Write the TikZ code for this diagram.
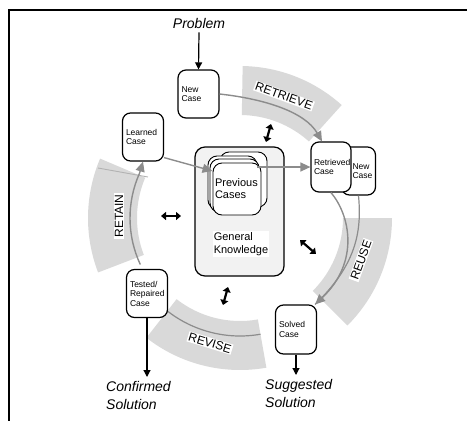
\documentclass[tikz,border=0pt]{standalone}
\usepackage{fontspec}
\setmainfont{Liberation Sans}
\usetikzlibrary{calc,arrows.meta}

\begin{document}
\begin{tikzpicture}[x=1pt, y=-1pt,
    casebox/.style={draw, line width=1.2pt, rounded corners=8pt, fill=white,
        minimum width=41pt, minimum height=48pt, text width=34pt, align=left,
        inner sep=0pt, font=\fontsize{8.5}{9.5}\selectfont},
    card/.style={draw, line width=0.9pt, rounded corners=9pt, fill=white},
    band/.style={fill=black!15},
    phase/.style={fill=white, inner sep=1pt, font=\fontsize{12}{12}\selectfont},
    cyclearrow/.style={draw=black!45, line width=1.4pt, -{Triangle[length=10pt,width=9pt]}},
    iolabel/.style={font=\fontsize{14}{18}\selectfont\itshape, align=left, inner sep=0pt},
    ioarrow/.style={line width=1.2pt, -{Triangle[length=7pt,width=7pt]}},
    dblarrow/.style={line width=2.2pt, {Triangle[length=5pt,width=8pt]}-{Triangle[length=5pt,width=8pt]}}
]
    % --- 1. Parameters ---
    \def\rIn{103}
    \def\rOut{152}
    \coordinate (C) at (240,218);   % centre of the cycle
    \useasboundingbox (0,0) rectangle (467,421);

    % --- 2. Frame ---
    \draw[line width=1.4pt] (467,10) -- (9,10) -- (9,421);

    % --- 3. Phase bands ---
    \foreach \a/\b in {-89/-48, 0/45, 80/128, -201/-157}
        \fill[band] ($(C)+(\a:\rOut)$) arc[start angle=\a, end angle=\b, radius=\rOut]
            -- ($(C)+(\b:\rIn)$) arc[start angle=\b, end angle=\a, radius=\rIn] -- cycle;
    \draw[black!30, line width=0.9pt] (98,168) -- (148,177);
    \draw[black!45, line width=1.2pt] ($(C)+(128:118)$) arc[start angle=128, end angle=80, radius=118];

    % --- 4. Knowledge base ---
    \node[draw, line width=1.2pt, rounded corners=10pt, fill=black!5,
        minimum width=89pt, minimum height=129pt] (genknow) at (239.5,211.5) {};
    \node[fill=white, inner sep=1pt, align=left, font=\fontsize{11}{13}\selectfont]
        (genlabel) at (241,244) {General\\Knowledge};
    \draw[card] (220,152) rectangle (267,207);
    \draw[card] (208,156) rectangle (257,209);
    \draw[card] (210,159) rectangle (259,212);
    \node[card, minimum width=48pt, minimum height=52pt, text width=44pt, align=left,
        inner sep=0pt, font=\fontsize{11}{12}\selectfont] (prevcases) at (237,189) {Previous\\Cases};

    % --- 5. Cases ---
    \node[casebox] (newcase) at (198.5,94) {New\\Case};
    \node[casebox] (learned) at (143,137) {Learned\\Case};
    \node[casebox, minimum width=34pt, text width=12pt] (retnew) at (358.5,171) {New\\Case};
    \node[casebox, minimum width=40pt, minimum height=50pt] (retrieved) at (331,167) {Retrieved\\Case};
    \node[casebox] (tested) at (147,293.5) {Tested/\\Repaired\\Case};
    \node[casebox, minimum height=49pt] (solved) at (296,329.5) {Solved\\Case};

    % --- 6. Cycle arrows ---
    \draw[cyclearrow] (newcase.east) .. controls (265,99) and (305,112) .. ([xshift=-9pt]retrieved.north);
    \draw[draw=black!45, line width=1.2pt] (retnew.south) .. controls (362,232) and (356,265) .. ([xshift=-2pt]solved.north east);
    \draw[cyclearrow] (retrieved.south) .. controls (350,215) and (360,262) .. ([xshift=-2pt]solved.north east);
    \draw[cyclearrow] ($(C)+(-205:110)$) arc[start angle=-205, end angle=-156, radius=110] -- (learned.south);
    \draw[cyclearrow] ([yshift=4pt]learned.south east) -- ([yshift=18pt]prevcases.west);
    \draw[cyclearrow] ([xshift=-4pt]prevcases.east |- retrieved.west) -- (retrieved.west);

    % --- 7. Phase labels ---
    \node[phase, rotate=-20] (retrieve) at (284,96) {RETRIEVE};
    \node[phase, rotate=70] (reuse) at (361,260) {REUSE};
    \node[phase, rotate=-17] (revise) at (210,343) {REVISE};
    \node[phase, rotate=90] (retain) at (119,216) {RETAIN};

    % --- 8. Input and output ---
    \node[iolabel] (problem) at (199,23) {Problem};
    \node[iolabel, anchor=north west] (confirmed) at (106,381) {Confirmed\\Solution};
    \node[iolabel, anchor=north west] (suggested) at (265,379) {Suggested\\Solution};
    \draw[ioarrow] ([yshift=-4pt]problem.south) -- (newcase.north);
    \draw[ioarrow] (tested.south) -- ([yshift=4pt]tested.south |- confirmed.north);
    \draw[ioarrow] (solved.south) -- ([yshift=4pt]solved.south |- suggested.north);

    % --- 9. Knowledge links ---
    \draw[dblarrow] (266,142) -- (271,124);
    \draw[dblarrow] (161,216) -- (181,216);
    \draw[dblarrow] (300,240) -- (316,254);
    \draw[dblarrow] (223,305) -- (228,287);
\end{tikzpicture}
\end{document}
